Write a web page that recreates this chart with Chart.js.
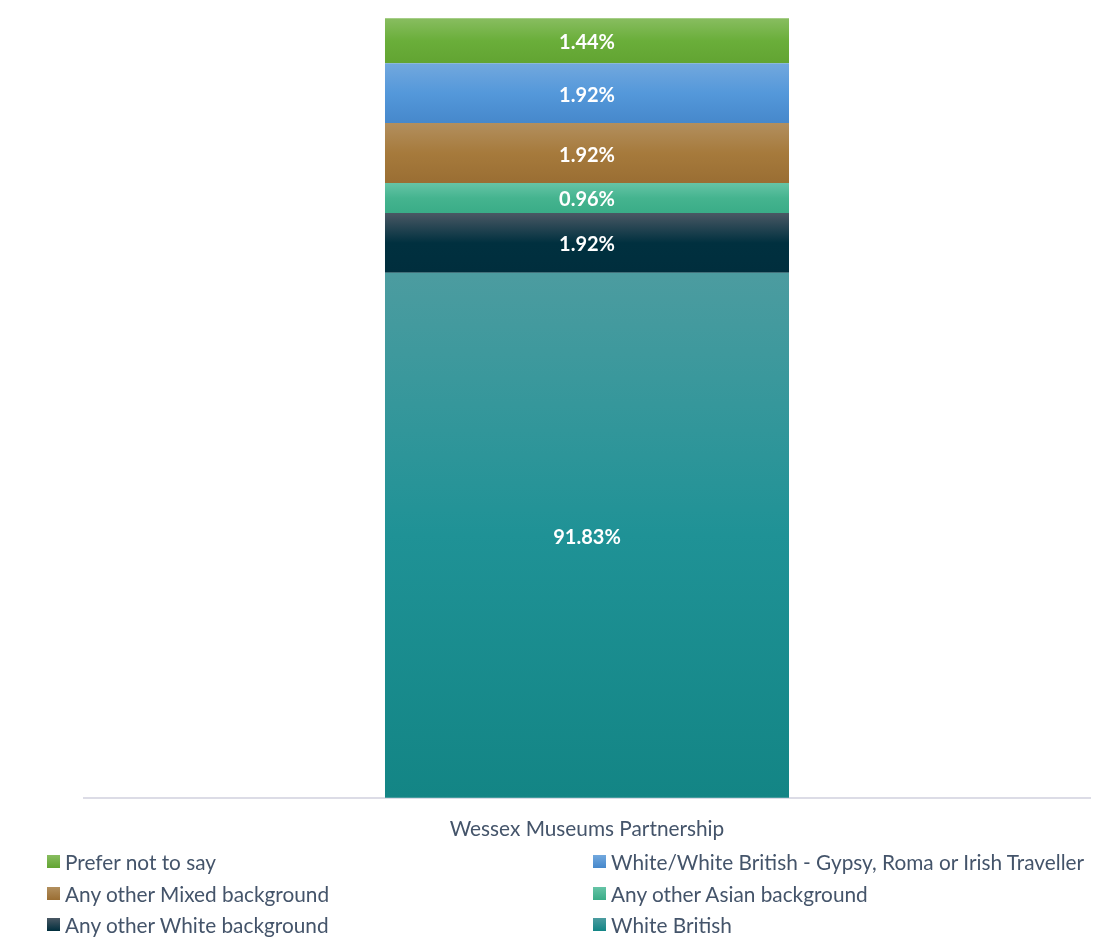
<!DOCTYPE html>
<html>
<head>
<meta charset="utf-8">
<script src="https://cdn.jsdelivr.net/npm/chart.js@4.4.1/dist/chart.umd.min.js"></script>
<style>
  html, body { margin: 0; padding: 0; background: #fff; }
  #wrap { position: relative; width: 1102px; height: 937px; overflow: hidden; }
  #c { position: absolute; left: 0; top: 0; }
  #legend { position: absolute; left: 0; top: 0; width: 1102px; height: 937px; pointer-events: none;
            font-family: Lato, "Open Sans", sans-serif; font-size: 20.8px; color: #44546a; }
  .item { position: absolute; height: 22px; display: flex; align-items: center; white-space: nowrap; }
  .sw { width: 13px; height: 13px; margin-right: 5px; flex: none; }
</style>
</head>
<body>
<div id="wrap">
  <canvas id="c" width="1102" height="937"></canvas>
  <div id="legend"></div>
</div>
<script>
// Categories and series (stacked bottom to top)
const categories = ['Wessex Museums Partnership'];
const seriesNames = [
  'White British',
  'Any other White background',
  'Any other Asian background',
  'Any other Mixed background',
  'White/White British - Gypsy, Roma or Irish Traveller',
  'Prefer not to say'
];
const seriesValues = [91.83, 1.92, 0.96, 1.92, 1.92, 1.44];
// Vertical gradient colours per series: light top, mid, dark bottom
const seriesTop = ['#4c9ca0', '#4a5864', '#66c4a6', '#b28f5e', '#72a8de', '#88bd60'];
const seriesMid = ['#1f9296', '#00303f', '#45b48f', '#a67a3c', '#5498da', '#6aae3a'];
const seriesBottom = ['#138585', '#002e3d', '#3aac87', '#9a6e33', '#4688cb', '#62a432'];
// Value axis window
const yMin = 75;
const yMax = 100;

const FONT = 'Lato, "Open Sans", sans-serif';

function segmentFill(i) {
  return (context) => {
    const chart = context.chart;
    const area = chart.chartArea;
    const y = chart.scales && chart.scales.y;
    if (!area || !y) return seriesBottom[i];
    const start = seriesValues.slice(0, i).reduce((a, b) => a + b, 0);
    const end = start + seriesValues[i];
    const top = Math.max(y.getPixelForValue(end), area.top);
    const bottom = Math.min(y.getPixelForValue(start), area.bottom);
    const g = chart.ctx.createLinearGradient(0, top, 0, bottom);
    g.addColorStop(0, seriesTop[i]);
    g.addColorStop(0.5, seriesMid[i]);
    g.addColorStop(1, seriesBottom[i]);
    return g;
  };
}

// Percentage labels centred in the visible part of each segment
const segmentLabels = {
  id: 'segmentLabels',
  afterDatasetsDraw(chart) {
    const { ctx, chartArea } = chart;
    ctx.save();
    ctx.font = 'bold 20px ' + FONT;
    ctx.fillStyle = '#ffffff';
    ctx.textAlign = 'center';
    ctx.textBaseline = 'middle';
    chart.data.datasets.forEach((ds, i) => {
      const meta = chart.getDatasetMeta(i);
      meta.data.forEach((bar, j) => {
        const top = Math.max(Math.min(bar.y, bar.base), chartArea.top);
        const bottom = Math.min(Math.max(bar.y, bar.base), chartArea.bottom);
        if (bottom <= top) return;
        ctx.fillText(ds.data[j].toFixed(2) + '%', bar.x, (top + bottom) / 2 + 2);
      });
    });
    ctx.restore();
  }
};

const chart = new Chart(document.getElementById('c'), {
  type: 'bar',
  data: {
    labels: categories,
    datasets: seriesNames.map((name, i) => ({
      label: name,
      data: [seriesValues[i]],
      backgroundColor: segmentFill(i),
      borderWidth: 0,
      categoryPercentage: 0.4016,
      barPercentage: 1
    }))
  },
  options: {
    responsive: false,
    animation: false,
    devicePixelRatio: 1,
    layout: { padding: { left: 84, right: 12, top: 18, bottom: 77 } },
    plugins: {
      legend: { display: false },
      tooltip: { enabled: false }
    },
    scales: {
      x: {
        stacked: true,
        grid: { display: false, drawTicks: false },
        border: { display: true, color: '#dcdce6', width: 2 },
        ticks: { color: '#44546a', font: { family: FONT, size: 20.8 }, padding: 18.6 }
      },
      y: {
        stacked: true,
        display: false,
        min: yMin,
        max: yMax
      }
    }
  },
  plugins: [segmentLabels]
});

// Legend: two columns, series listed top of stack first
(function buildLegend() {
  const host = document.getElementById('legend');
  const order = seriesNames.map((_, i) => i).reverse();
  const colX = [47, 593];
  const rowY = [862, 894, 925];
  order.forEach((idx, k) => {
    const item = document.createElement('div');
    item.className = 'item';
    item.style.left = colX[k % 2] + 'px';
    item.style.top = (rowY[Math.floor(k / 2)] - 12) + 'px';
    const sw = document.createElement('span');
    sw.className = 'sw';
    sw.style.background = 'linear-gradient(' + seriesTop[idx] + ',' + seriesBottom[idx] + ')';
    const tx = document.createElement('span');
    tx.textContent = seriesNames[idx];
    item.appendChild(sw);
    item.appendChild(tx);
    host.appendChild(item);
  });
})();
</script>
</body>
</html>
